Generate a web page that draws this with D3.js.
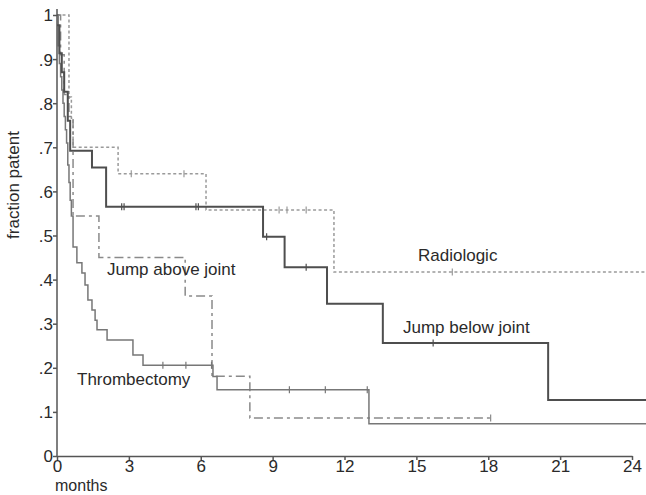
<!DOCTYPE html>
<html>
<head>
<meta charset="utf-8">
<title>fraction patent</title>
<script src="https://d3js.org/d3.v7.min.js"></script>
<style>
body{ margin:0; background:#fff; }
svg text{ font-family:"Liberation Sans", Arial, Helvetica, sans-serif; font-size:17px; fill:#2a2a2a; }
.axis path, .axis line{ stroke:#555; stroke-width:1.5; fill:none; }
.curve{ fill:none; }
</style>
</head>
<body>
<svg id="chart" width="646" height="495"></svg>
<script>
// step points [month, fraction patent]
var radiologic = [[0,1],[0.5,0.814],[0.6,0.766],[0.67,0.70],[2.55,0.64],[6.22,0.558],[11.56,0.417],[24.6,0.417]];
var radiologicCens = [[3.1,0.64],[5.3,0.64],[9.27,0.558],[9.6,0.558],[10.4,0.558],[16.5,0.417]];

var jumpBelow = [[0,0.977],[0.1,0.913],[0.2,0.87],[0.3,0.826],[0.45,0.76],[0.55,0.692],[1.46,0.654],[2.05,0.565],
  [8.6,0.497],[9.5,0.428],[11.27,0.345],[13.6,0.256],[20.5,0.127],[24.6,0.127]];
var jumpBelowCens = [[2.7,0.565],[2.8,0.565],[5.8,0.565],[5.9,0.565],[8.75,0.497],[10.4,0.428],[15.7,0.256]];

var jumpAbove = [[0,1],[0.15,0.91],[0.3,0.82],[0.5,0.77],[0.67,0.544],[1.75,0.45],[5.35,0.363],[6.47,0.181],[8.05,0.086],[18.1,0.086]];
var jumpAboveCens = [[18.1,0.086]];

var thrombectomy = [[0,1],[0.05,0.93],[0.1,0.89],[0.15,0.86],[0.2,0.83],[0.25,0.80],[0.3,0.77],[0.35,0.74],[0.4,0.71],
  [0.45,0.66],[0.5,0.62],[0.55,0.58],[0.6,0.544],[0.67,0.474],[0.83,0.438],[1.04,0.415],[1.17,0.388],[1.29,0.354],
  [1.46,0.331],[1.59,0.308],[1.67,0.286],[2.09,0.263],[3.17,0.229],[3.59,0.206],[6.51,0.18],[6.68,0.15],[13.02,0.073],[24.6,0.073]];
var thrombectomyCens = [[4.42,0.206],[5.38,0.206],[6.45,0.206],[9.7,0.15],[11.2,0.15],[12.95,0.15]];

var xTicks = [0,3,6,9,12,15,18,21,24];
var yTicks = [0,0.1,0.2,0.3,0.4,0.5,0.6,0.7,0.8,0.9,1];
var yTickLabels = ["0",".1",".2",".3",".4",".5",".6",".7",".8",".9","1"];

var svg = d3.select("#chart");

var x = d3.scaleLinear().domain([0,24]).range([57,632]);
var y = d3.scaleLinear().domain([0,1]).range([456,15]);

var line = d3.line()
  .x(function(d){ return x(d[0]); })
  .y(function(d){ return y(d[1]); })
  .curve(d3.curveStepAfter);

var series = [
  {data:radiologic, cens:radiologicCens, color:"#9a9a9a", width:1.5, dash:"3,2.5"},
  {data:jumpAbove, cens:jumpAboveCens, color:"#8a8a8a", width:1.5, dash:"9,4,3,4"},
  {data:thrombectomy, cens:thrombectomyCens, color:"#777", width:1.5, dash:null},
  {data:jumpBelow, cens:jumpBelowCens, color:"#4e4e4e", width:2, dash:null}
];

series.forEach(function(s){
  svg.append("path")
    .datum(s.data)
    .attr("class","curve")
    .attr("d", line)
    .attr("stroke", s.color)
    .attr("stroke-width", s.width)
    .attr("stroke-dasharray", s.dash);
  // censor marks
  svg.selectAll(null)
    .data(s.cens)
    .enter()
    .append("line")
    .attr("x1", function(d){ return x(d[0]); })
    .attr("x2", function(d){ return x(d[0]); })
    .attr("y1", function(d){ return y(d[1]) - 3.5; })
    .attr("y2", function(d){ return y(d[1]) + 3.5; })
    .attr("stroke", s.color)
    .attr("stroke-width", 1.2);
});

// axes
var xAxis = d3.axisBottom(x).tickValues(xTicks).tickSize(4).tickSizeOuter(0).tickPadding(0);
var gx = svg.append("g").attr("class","axis").attr("transform","translate(0,456)").call(xAxis);
gx.selectAll("text").style("font-size","17px").attr("dy","0.68em");

var yAxis = d3.axisLeft(y).tickValues(yTicks).tickSize(4).tickSizeOuter(0).tickPadding(0)
  .tickFormat(function(d,i){ return yTickLabels[i]; });
var gy = svg.append("g").attr("class","axis").attr("transform","translate(57,0)").call(yAxis);
gy.select(".domain").attr("d","M0,456V9");
gy.selectAll("text").style("font-size","17px").attr("dy","0.35em");

svg.append("text").attr("x",55).attr("y",491).style("font-size","16px").text("months");
svg.append("text")
  .attr("transform","translate(19,185) rotate(-90)")
  .attr("text-anchor","middle")
  .text("fraction patent");

// curve labels
svg.append("text").attr("x",418).attr("y",261).text("Radiologic");
svg.append("text").attr("x",403).attr("y",333).text("Jump below joint");
svg.append("text").attr("x",107).attr("y",275).text("Jump above joint");
svg.append("text").attr("x",77).attr("y",385).text("Thrombectomy");
</script>
</body>
</html>
